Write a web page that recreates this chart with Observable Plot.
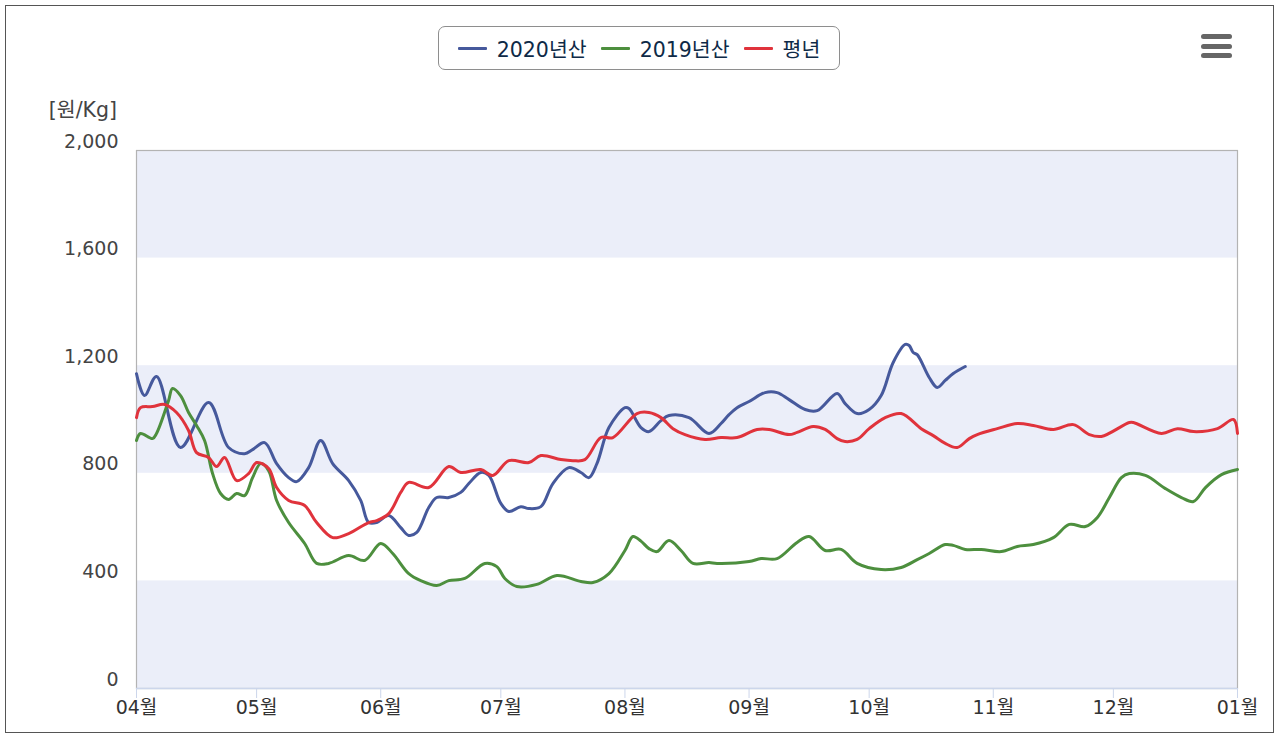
<!DOCTYPE html>
<html>
<head>
<meta charset="utf-8">
<script src="https://cdn.jsdelivr.net/npm/d3@7"></script>
<script src="https://cdn.jsdelivr.net/npm/@observablehq/plot@0.6"></script>
<style>
  html, body { margin: 0; padding: 0; background: #fff; }
  body { width: 1280px; height: 740px; position: relative; overflow: hidden;
         font-family: "DejaVu Sans", "Noto Sans CJK KR", sans-serif; }
  #outer { position: absolute; left: 5px; top: 5px; width: 1267px; height: 726px;
           border: 1px solid #555; box-sizing: content-box; }
  #chart { position: absolute; left: 0; top: 0; }
  #legend { position: absolute; left: 438px; top: 26px; width: 402px; height: 44px;
            border: 1.5px solid #8e8e8e; border-radius: 7px; box-sizing: border-box;
            display: flex; align-items: center; justify-content: center; gap: 0;
            font-size: 20.5px; color: #0e2a47; background: #fff; }
  .item { display: flex; align-items: center; margin: 0 7px; }
  .sym { width: 29px; height: 3px; border-radius: 1px; margin-right: 10px; }
  #ylabel { position: absolute; right: calc(1280px - 117px); top: 93px; font-size: 20.5px; color: #444; white-space: nowrap; }
  #menu { position: absolute; left: 1201px; top: 34px; width: 31px; }
  #menu div { height: 5px; border-radius: 3px; background: #666; margin-bottom: 4.5px; }
</style>
</head>
<body>
<div id="outer"></div>
<div id="chart"></div>
<div id="ylabel">[원/Kg]</div>
<div id="legend"></div>
<div id="menu"><div></div><div></div><div></div></div>
<script>
// ---- Data ----
const seriesNames = ["2020년산", "2019년산", "평년"];
const seriesColors = ["#46599c", "#4d8f3e", "#e0333c"];

const dates2020 = ["04-01","04-03","04-06","04-12","04-19","04-24","04-28","04-30","05-03","05-06","05-09","05-11","05-14","05-17","05-20","05-24","05-27","05-29","05-31","06-03","06-06","06-08","06-10","06-13","06-15","06-18","06-21","06-23","06-26","06-28","07-01","07-03","07-06","07-08","07-11","07-14","07-18","07-21","07-23","07-25","07-28","08-01","08-02","08-05","08-07","08-10","08-12","08-17","08-22","08-25","08-27","08-29","09-01","09-05","09-08","09-11","09-15","09-18","09-23","09-25","09-28","10-01","10-04","10-07","10-10","10-11","10-12","10-13","10-16","10-18","10-20","10-22","10-25"];
const values2020 = [1170,1089,1160,896,1063,896,873,888,914,836,784,769,821,922,836,773,699,617,617,643,598,569,580,673,710,710,729,762,803,792,688,658,676,669,676,762,821,803,784,836,970,1044,1041,970,955,996,1015,1007,948,985,1018,1044,1067,1100,1100,1074,1037,1033,1097,1059,1022,1037,1089,1212,1279,1275,1249,1241,1156,1119,1145,1171,1197];

const dates2019 = ["04-01","04-02","04-05","04-06","04-09","04-10","04-12","04-14","04-16","04-18","04-20","04-22","04-24","04-26","04-28","04-30","05-02","05-04","05-06","05-09","05-13","05-16","05-19","05-24","05-28","06-01","06-04","06-08","06-11","06-15","06-18","06-22","06-27","06-30","07-02","07-05","07-10","07-15","07-21","07-24","07-28","08-01","08-03","08-05","08-07","08-09","08-12","08-15","08-18","08-22","08-24","09-01","09-04","09-08","09-13","09-16","09-20","09-24","09-28","10-04","10-09","10-13","10-16","10-20","10-22","10-25","10-29","11-03","11-07","11-11","11-16","11-20","11-24","11-27","11-30","12-03","12-05","12-09","12-14","12-18","12-21","12-24","12-28","01-01"];
const values2019 = [922,948,929,948,1070,1115,1089,1026,978,922,799,725,703,725,717,784,836,810,699,617,539,465,465,494,476,539,502,427,401,383,401,409,465,453,409,379,387,420,398,394,427,513,565,548,520,509,550,513,465,468,465,472,483,483,543,565,513,517,465,442,450,479,502,535,532,517,517,509,528,535,561,610,602,636,710,784,799,792,743,710,695,747,795,814];

const datesNormal = ["04-01","04-02","04-05","04-08","04-11","04-14","04-16","04-19","04-21","04-23","04-26","04-29","05-01","05-04","05-06","05-09","05-13","05-16","05-20","05-24","05-29","05-31","06-03","06-06","06-08","06-13","06-18","06-21","06-26","06-29","07-03","07-08","07-11","07-16","07-19","07-22","07-26","07-29","08-04","08-07","08-10","08-13","08-16","08-21","08-25","08-29","09-03","09-06","09-11","09-13","09-17","09-20","09-23","09-25","09-28","10-01","10-05","10-09","10-14","10-17","10-20","10-23","10-26","10-28","11-02","11-07","11-11","11-16","11-21","11-25","11-28","12-05","12-06","12-13","12-17","12-21","12-27","12-31","01-01"];
const valuesNormal = [1007,1044,1048,1056,1026,959,877,859,825,859,773,799,840,818,747,699,680,617,561,576,617,624,650,729,766,747,825,803,814,792,847,840,866,851,847,851,933,933,1022,1026,1007,966,944,926,933,933,963,963,944,952,974,963,929,918,926,966,1007,1022,966,940,911,896,929,944,966,985,978,963,981,944,937,989,989,948,966,955,966,1000,948];

const yTicks = [0, 400, 800, 1200, 1600, 2000];
const bandFrom = [0, 800, 1600];
const bandTo = [400, 1200, 2000];
const xDomain = ["2020-04-01", "2021-01-01"];

// ---- Build tables ----
const toDate = s => new Date(Date.UTC(s.startsWith("01-") ? 2021 : 2020, +s.slice(0, 2) - 1, +s.slice(3, 5)));
const allDates = [dates2020, dates2019, datesNormal];
const allValues = [values2020, values2019, valuesNormal];
const rows = [];
seriesNames.forEach((name, i) => {
  allDates[i].forEach((d, j) => rows.push({series: name, date: toDate(d), value: allValues[i][j]}));
});
const bands = bandFrom.map((f, i) => ({y1: f, y2: bandTo[i]}));
const monthTicks = d3.utcMonth.range(new Date(xDomain[0]), d3.utcDay.offset(new Date(xDomain[1]), 1));
const monthFmt = d => String(d.getUTCMonth() + 1).padStart(2, "0") + "월";

const chart = Plot.plot({
  width: 1280,
  height: 720,
  marginLeft: 136,
  marginRight: 43,
  marginTop: 150,
  marginBottom: 32,
  style: {fontFamily: '"DejaVu Sans", "Noto Sans CJK KR", sans-serif', fontSize: "19px", color: "#333", background: "transparent"},
  x: {type: "utc", domain: xDomain.map(d => new Date(d)), ticks: monthTicks, tickFormat: monthFmt},
  y: {domain: [0, 2000], ticks: yTicks, tickFormat: d3.format(",")},
  color: {domain: seriesNames, range: seriesColors},
  marks: [
    Plot.rectY(bands, {y1: "y1", y2: "y2", x1: new Date(xDomain[0]), x2: new Date(xDomain[1]), fill: "#ebeef9"}),
    Plot.frame({stroke: "#b3b3b3", strokeWidth: 1.2}),
    Plot.ruleY([0], {stroke: "#ccd6eb", strokeWidth: 1.5}),
    Plot.axisX({ticks: monthTicks, tickSize: 10, stroke: "#ccd6eb", tickPadding: 2, fill: "#333",
                tickFormat: monthFmt, label: null, fontSize: 19}),
    Plot.axisY({ticks: yTicks, tickSize: 0, tickPadding: 18, dy: -9, fill: "#444",
                tickFormat: d3.format(","), label: null, fontSize: 19}),
    Plot.line(rows, {x: "date", y: "value", z: "series", stroke: "series", strokeWidth: 3, curve: "catmull-rom"})
  ]
});
document.getElementById("chart").appendChild(chart);

// ---- Legend ----
const legend = document.getElementById("legend");
seriesNames.forEach((name, i) => {
  const item = document.createElement("div");
  item.className = "item";
  const sym = document.createElement("div");
  sym.className = "sym";
  sym.style.background = seriesColors[i];
  const label = document.createElement("span");
  label.textContent = name;
  item.appendChild(sym);
  item.appendChild(label);
  legend.appendChild(item);
});
</script>
</body>
</html>
